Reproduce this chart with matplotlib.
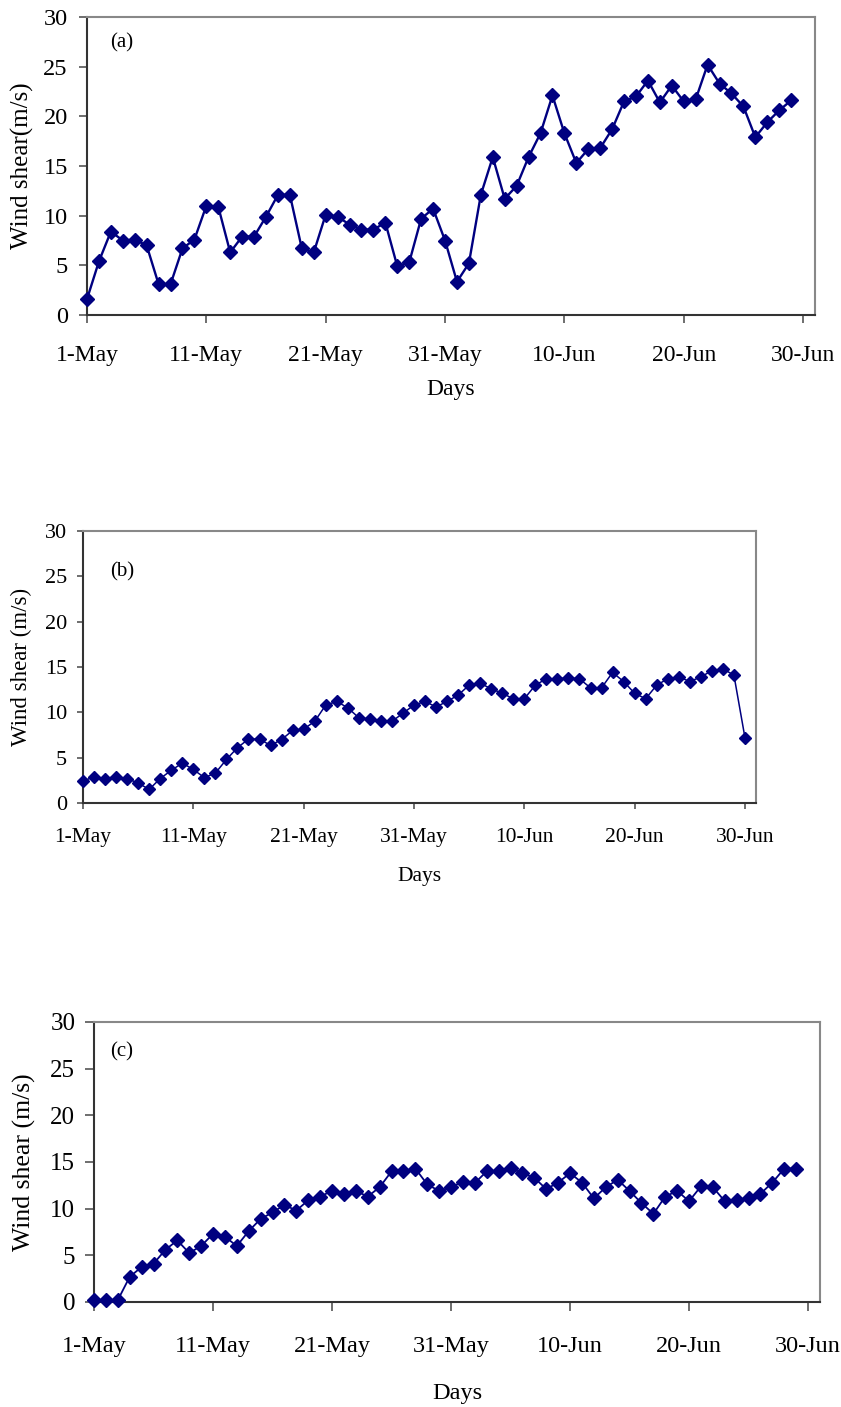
import matplotlib
matplotlib.use("Agg")
import matplotlib.pyplot as plt

plt.rcParams['font.family'] = ['Liberation Serif', 'DejaVu Serif']

# day index 0 = 1-May
tick_days = [0, 10, 20, 30, 40, 50, 60]
tick_labels = ['1-May', '11-May', '21-May', '31-May', '10-Jun', '20-Jun', '30-Jun']

shear_a = [1.6, 5.4, 8.4, 7.5, 7.6, 7.0, 3.1, 3.1, 6.7, 7.6,
           11.0, 10.9, 6.3, 7.9, 7.9, 9.9, 12.1, 12.1, 6.7, 6.3,
           10.1, 9.9, 9.1, 8.6, 8.6, 9.3, 4.9, 5.3, 9.7, 10.7,
           7.5, 3.35, 5.2, 12.1, 15.9, 11.7, 13.0, 15.9, 18.3, 22.1,
           18.3, 15.3, 16.7, 16.8, 18.7, 21.5, 22.0, 23.6, 21.4, 23.1,
           21.5, 21.7, 25.2, 23.3, 22.3, 21.0, 17.9, 19.4, 20.6, 21.6]

shear_b = [2.4, 2.9, 2.7, 2.9, 2.7, 2.2, 1.5, 2.7, 3.6, 4.4,
           3.7, 2.8, 3.3, 4.8, 6.1, 7.05, 7.05, 6.35, 7.0, 8.0,
           8.15, 9.0, 10.8, 11.2, 10.5, 9.4, 9.25, 9.0, 9.0, 9.9,
           10.8, 11.2, 10.6, 11.2, 11.9, 13.0, 13.2, 12.6, 12.1, 11.5,
           11.5, 13.0, 13.7, 13.7, 13.8, 13.7, 12.7, 12.7, 14.4, 13.4,
           12.1, 11.5, 13.0, 13.7, 13.9, 13.4, 13.9, 14.6, 14.8, 14.1,
           7.2]

shear_c = [0.2, 0.2, 0.2, 2.7, 3.75, 4.1, 5.6, 6.6, 5.25, 6.0,
           7.3, 7.0, 6.0, 7.6, 8.9, 9.6, 10.4, 9.8, 10.9, 11.3,
           11.9, 11.6, 11.9, 11.3, 12.3, 14.0, 14.0, 14.3, 12.6, 11.9,
           12.3, 12.9, 12.75, 14.0, 14.0, 14.35, 13.8, 13.3, 12.1, 12.8,
           13.8, 12.8, 11.1, 12.3, 13.1, 11.9, 10.6, 9.45, 11.3, 11.9,
           10.8, 12.4, 12.3, 10.8, 10.9, 11.1, 11.6, 12.8, 14.3, 14.3]

W, H = 841, 1407
fig = plt.figure(figsize=(W / 100, H / 100), dpi=100)

NAVY = '#000080'

panels = [
    # data, tag, ylabel, rect px (l, t, r, b), font, tick len, xpad, ypad, lw, ms, xlab y, ylab x, tag pos
    (shear_a, '(a)', 'Wind shear(m/s)', (87, 17, 815, 315), 17, 5.8, 16, 8, 1.7, 7.2, -0.25, -0.088, (0.032, 0.913)),
    (shear_b, '(b)', 'Wind shear (m/s)', (83, 531, 756, 803), 15.5, 4.3, 14, 7, 1.1, 6.6, -0.27, -0.092, (0.040, 0.850)),
    (shear_c, '(c)', 'Wind shear (m/s)', (94, 1022, 820, 1302), 17.5, 6.5, 18, 7, 1.3, 7.0, -0.325, -0.096, (0.022, 0.893)),
]

for vals, tag, ylab, (l, t, r, b), fs, tl, xpad, ypad, lw, ms, xly, ylx, tagpos in panels:
    ax = fig.add_axes([l / W, 1 - b / H, (r - l) / W, (b - t) / H])
    days = list(range(len(vals)))
    ax.plot(days, vals, color=NAVY, lw=lw, marker='D', ms=ms,
            markerfacecolor=NAVY, markeredgecolor=NAVY, clip_on=False, zorder=3)
    ax.set_xlim(0, 61)
    ax.set_ylim(0, 30)
    ax.set_yticks(range(0, 31, 5))
    ax.set_xticks(tick_days)
    ax.set_xticklabels(tick_labels)
    ax.tick_params(axis='x', direction='out', length=tl, width=1.2, pad=xpad,
                   labelsize=fs, color='#555555')
    ax.tick_params(axis='y', direction='out', length=tl, width=1.2, pad=ypad,
                   labelsize=fs + 0.5, color='#555555')
    for s in ('left', 'bottom'):
        ax.spines[s].set_color('#333333')
        ax.spines[s].set_linewidth(1.5)
    for s in ('top', 'right'):
        ax.spines[s].set_color('#888888')
        ax.spines[s].set_linewidth(1.5)
    ax.set_xlabel('Days', fontsize=fs)
    ax.xaxis.set_label_coords(0.5, xly)
    ax.xaxis.label.set_verticalalignment('center')
    ax.set_ylabel(ylab, fontsize=fs + 1)
    ax.yaxis.set_label_coords(ylx, 0.5)
    ax.yaxis.label.set_verticalalignment('center')
    ax.text(tagpos[0], tagpos[1], tag, transform=ax.transAxes, fontsize=15,
            ha='left', va='center')

fig.savefig('out.png', dpi=100)
